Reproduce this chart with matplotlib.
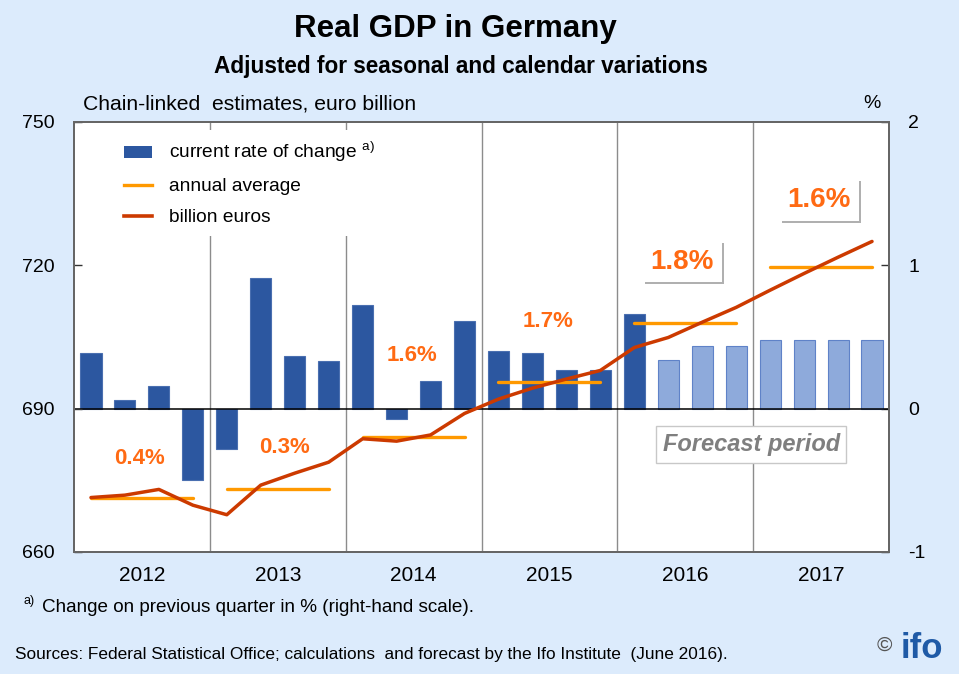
import matplotlib
matplotlib.use("Agg")
import matplotlib.pyplot as plt
import matplotlib.patheffects as pe
import numpy as np

plt.rcParams['font.family'] = ['Liberation Sans', 'DejaVu Sans']
plt.rcParams['mathtext.fontset'] = 'custom'
plt.rcParams['mathtext.rm'] = 'Liberation Sans'

# quarterly data 2012Q1 .. 2017Q4
years = ['2012', '2013', '2014', '2015', '2016', '2017']
growth = [0.39, 0.06, 0.16, -0.50, -0.28, 0.91, 0.37, 0.33, 0.72, -0.07, 0.19, 0.61,
          0.40, 0.39, 0.27, 0.27, 0.66, 0.34, 0.44, 0.44, 0.48, 0.48, 0.48, 0.48]
gdp = [671.4, 671.9, 673.1, 669.8, 667.8, 674.0, 676.5, 678.8, 683.7, 683.2, 684.5, 689.0,
       692.0, 694.3, 696.2, 698.0, 702.8, 704.9, 708.1, 711.2, 714.8, 718.3, 721.7, 725.0]
annual_avg = [671.3, 673.2, 684.0, 695.5, 707.9, 719.6]
annual_rate = ['0.4%', '0.3%', '1.6%', '1.7%', '1.8%', '1.6%']
forecast_from = 17  # first forecast quarter (2016Q2)

# label placement (quarter index, euro billion) and style
label_pos = [(1.44, 679.5), (5.7, 681.8), (9.44, 701.1), (13.47, 708.2), (17.41, 720.8), (21.44, 733.7)]
label_size = [16, 16, 16, 16, 20, 20]
label_boxed = [False, False, False, False, True, True]

BG = '#dcebfc'
DARK = '#2c57a0'
LIGHT = '#8eaadb'
RED = '#cc3a00'
ORANGE = '#ff9900'
TXT_OR = '#ff6a13'

W, H = 959, 674
fig = plt.figure(figsize=(W / 100, H / 100), dpi=100, facecolor=BG)


def fx(px):
    return px / W


def fy(py):
    return 1 - py / H


ax = fig.add_axes([fx(74), fy(552), fx(889) - fx(74), fy(122) - fy(552)])
ax2 = ax.twinx()
ax.set_zorder(2)
ax2.set_zorder(1)
ax.patch.set_visible(False)
ax2.patch.set_visible(True)
ax2.patch.set_facecolor('white')

n = len(growth)
x = np.arange(n)

# bars (right-hand scale)
cols = [DARK if i < forecast_from else LIGHT for i in range(n)]
edges = ['#4a6fb0' if i < forecast_from else '#5f82c8' for i in range(n)]
ax2.bar(x, growth, width=0.62, color=cols, edgecolor=edges, linewidth=0.8, zorder=3)
ax2.axhline(0, color='black', lw=1.1, zorder=4)
for b in np.arange(3.5, n - 1, 4):
    ax2.axvline(b, color='#8c8c8c', lw=1, zorder=1)
ax2.set_ylim(-1, 2)
ax2.set_yticks([-1, 0, 1, 2])
ax2.set_yticklabels(['-1', '0', '1', '2'])

# level line and annual averages (left-hand scale)
ax.plot(x, gdp, color=RED, lw=2.5, solid_capstyle='round', zorder=5)
for k, avg in enumerate(annual_avg):
    ax.plot([4 * k, 4 * k + 3], [avg, avg], color=ORANGE, lw=2.4, solid_capstyle='round', zorder=4)
ax.set_ylim(660, 750)
ax.set_yticks([660, 690, 720, 750])
ax.set_xlim(-0.5, n - 0.5)
ax.set_xticks(np.arange(1.5, n, 4))
ax.set_xticklabels(years)

for a in (ax, ax2):
    for s in a.spines.values():
        s.set_color('#666666')
        s.set_linewidth(1.4)
ax.tick_params(axis='y', direction='in', length=6, width=1, pad=14, labelsize=14, colors='#333333',
               labelcolor='black')
ax2.tick_params(axis='y', direction='in', length=6, width=1, pad=14, labelsize=14, colors='#333333',
                labelcolor='black')
ax.tick_params(axis='x', length=0, pad=10, labelsize=15)

# annual growth labels
for (px_, py_), t, fs, boxed in zip(label_pos, annual_rate, label_size, label_boxed):
    if boxed:
        tx = ax.text(px_, py_, t, color=TXT_OR, fontsize=fs, fontweight='bold', ha='center', va='center',
                     zorder=6, bbox=dict(boxstyle='square,pad=0.28', facecolor='white', edgecolor='none'))
        tx.get_bbox_patch().set_path_effects([pe.SimplePatchShadow(offset=(1.5, -1.5), shadow_rgbFace='#b0b0b0',
                                                                   alpha=1), pe.Normal()])
    else:
        ax.text(px_, py_, t, color=TXT_OR, fontsize=fs, fontweight='bold', ha='center', va='center', zorder=6)

ax.text(19.44, 682.5, 'Forecast period', color='#7f7f7f', fontsize=17, fontweight='bold', style='italic',
        ha='center', va='center', zorder=6,
        bbox=dict(boxstyle='square,pad=0.28', facecolor='white', edgecolor='#c8c8c8', lw=1))

# legend
h_bar = plt.Rectangle((0, 0), 1, 1, facecolor=DARK, edgecolor='none')
h_avg, = ax.plot([], [], color=ORANGE, lw=2.4)
h_lvl, = ax.plot([], [], color=RED, lw=2.6)
leg = ax.legend([h_bar, h_avg, h_lvl],
                [r'current rate of change $^{\rm a)}$', 'annual average', 'billion euros'],
                loc='upper left', bbox_to_anchor=((114 - 74) / 815, 1 - (130 - 122) / 430),
                borderaxespad=0, fontsize=13.8, frameon=True, fancybox=False, facecolor='white',
                edgecolor='none', framealpha=1, handlelength=1.5, handleheight=0.6, handletextpad=0.85,
                labelspacing=0.72, borderpad=0.5)
leg.set_zorder(10)

# titles and notes
fig.text(fx(455), fy(29), 'Real GDP in Germany', fontsize=22.5, fontweight='bold', ha='center', va='center')
fig.text(fx(461), fy(67), 'Adjusted for seasonal and calendar variations', fontsize=16.3, fontweight='bold',
         ha='center', va='center')
fig.text(fx(83), fy(104), 'Chain-linked  estimates, euro billion', fontsize=15.2, ha='left', va='center')
fig.text(fx(872), fy(103), '%', fontsize=14, ha='center', va='center')
fig.text(fx(24), fy(601), 'a)', fontsize=9, ha='left', va='center')
fig.text(fx(42), fy(607), 'Change on previous quarter in % (right-hand scale).', fontsize=13.6,
         ha='left', va='center')
fig.text(fx(15), fy(654), 'Sources: Federal Statistical Office; calculations  and forecast by the Ifo Institute  (June 2016).',
         fontsize=12.4, ha='left', va='center')
fig.text(fx(884), fy(645), '©', fontsize=15, color='#555555', ha='center', va='center')
fig.text(fx(922), fy(648), 'ifo', fontsize=25, fontweight='bold', color='#1f5aa6', ha='center', va='center')

fig.savefig('out.png', dpi=100, facecolor=BG)
